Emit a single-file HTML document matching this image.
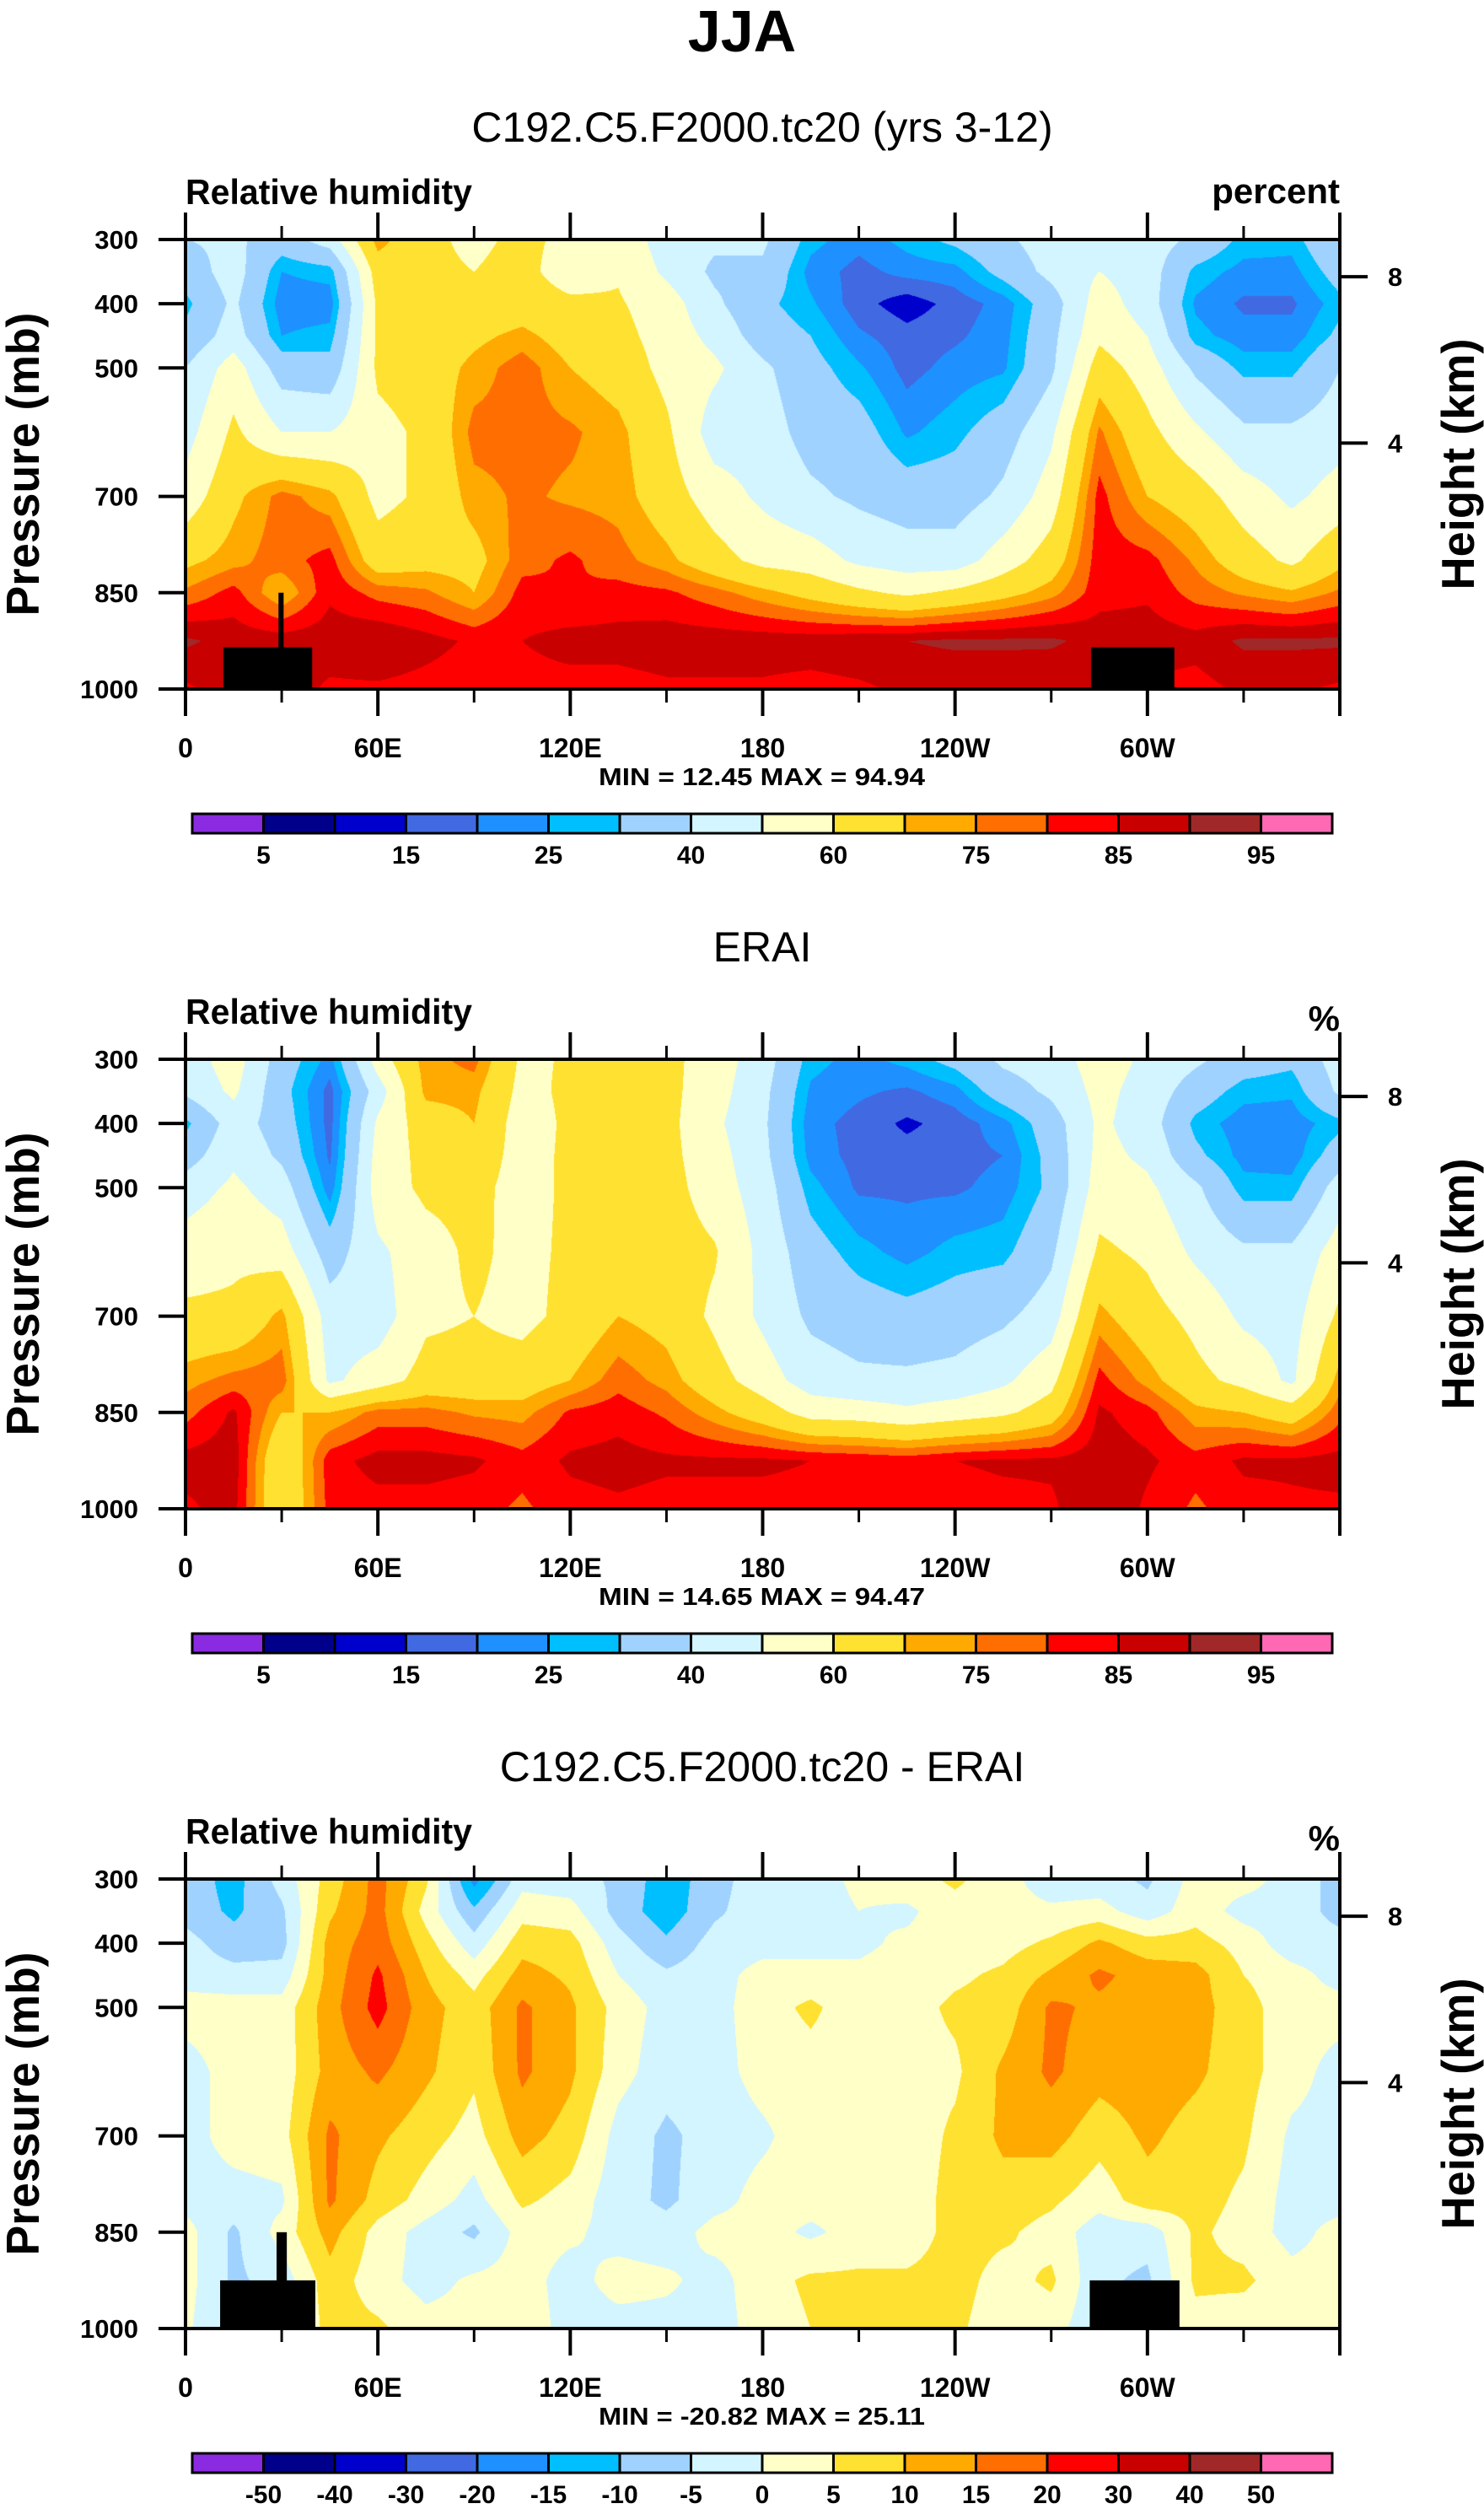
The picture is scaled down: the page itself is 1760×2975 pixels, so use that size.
<!DOCTYPE html>
<html><head><meta charset="utf-8">
<style>
html,body{margin:0;padding:0;background:#fff;}
#wrap{position:relative;width:1760px;height:2975px;overflow:hidden;background:#fff;}
canvas{position:absolute;}
svg{position:absolute;left:0;top:0;}
text{font-family:"Liberation Sans",sans-serif;fill:#000;}
</style></head>
<body>
<div id="wrap">
<canvas id="c0"></canvas>
<canvas id="c1"></canvas>
<canvas id="c2"></canvas>
<svg id="ov" width="1760" height="2975" xmlns="http://www.w3.org/2000/svg">
<text x="880" y="61" text-anchor="middle" font-size="70" font-weight="bold">JJA</text>
</svg>
</div>
<script>
// ---- data ----
const lons = [0,15,30,45,60,75,90,105,120,135,150,165,180,195,210,225,240,255,270,285,300,315,330,345,360];
const plevs = [300,350,400,450,500,600,700,800,850,925,1000];
const modelRH = [
[40,42,35,45,73,62,58,62,58,57,45,42,42,27,22,27,32,38,45,48,45,38,28,27,40],
[34,45,25,27,65,62,60,63,55,59,48,38,38,23,18,22,23,33,43,50,45,28,23,23,34],
[28,42,22,22,62,64,63,65,62,61,55,42,32,26,17,12,17,22,35,55,45,24,19,19,28],
[32,45,25,27,62,64,68,72,66,63,56,47,35,30,21,17,19,23,37,58,50,27,22,22,32],
[40,55,35,33,62,65,72,78,70,66,57,52,42,33,26,18,22,24,38,65,55,38,28,28,40],
[46,62,50,50,57,62,77,77,76,72,62,45,45,36,34,24,28,35,48,76,63,52,42,42,46],
[54,68,77,72,57,62,73,76,74,73,65,55,48,42,38,35,35,42,55,82,70,65,55,48,54],
[68,73,78,82,65,67,67,78,81,77,72,64,57,55,48,45,45,55,65,83,82,74,65,58,68],
[76,82,70,84,78,76,70,82,80,82,81,77,72,67,62,58,62,67,73,83,84,78,74,71,76],
[91,88,88,88,90,87,84,85,87,87,88,88,88,88,89,90,91,91,91,88,88,87,91,91,91],
[84,88,88,84,84,83,82,83,83,83,84,84,84,83,84,86,86,86,85,85,84,83,86,86,84]];
const eraiRH = [
[45,55,35,23,55,73,77,58,61,63,63,55,45,27,23,27,33,42,45,55,48,42,35,32,45],
[42,52,33,18,45,72,72,57,62,63,63,54,43,24,21,19,23,35,42,53,46,35,27,26,42],
[28,45,35,18,52,65,70,55,62,64,63,52,42,22,18,14,17,23,35,52,45,28,22,22,28],
[35,48,38,19,54,63,66,56,62,64,63,54,43,23,18,17,18,20,33,53,48,32,23,22,35],
[45,52,45,22,55,62,63,56,62,64,64,55,45,27,19,19,19,22,32,55,52,42,27,27,45],
[55,58,55,35,48,56,62,57,62,65,65,61,47,34,27,23,27,28,38,62,58,48,42,42,55],
[62,62,72,45,45,58,60,57,63,70,67,58,48,38,35,33,35,38,45,72,64,57,48,46,62],
[73,77,78,48,55,64,64,65,70,78,73,64,55,45,42,42,43,48,57,82,73,63,57,48,73],
[78,86,70,70,77,77,74,73,81,83,79,72,65,56,55,52,55,58,65,86,82,72,70,65,78],
[87,88,60,83,87,87,86,82,86,87,86,86,86,85,84,83,85,86,86,88,86,82,86,86,87],
[84,87,60,82,83,83,82,79,83,84,83,83,83,83,80,81,82,83,84,90,84,79,83,84,84]];
const diffRH = [
[-7,-12,-3,7,17,6,-17,-2,-3,-6,-13,-7,-2,-2,1,3,6,2,-3,-3,-6,2,2,-2,-7],
[-7,-11,-6,9,17,3,-9,3,2,-7,-13,-6,-2,-2,0,-1,3,2,1,2,-3,3,-2,-2,-7],
[-3,-8,-7,12,18,7,-3,8,7,-3,-9,-3,-2,-2,-1,1,2,3,6,11,7,7,3,-3,-3],
[-2,-3,-3,12,21,10,3,12,9,0,-4,-2,2,2,1,2,4,6,11,16,13,12,5,2,-2],
[2,2,2,13,22,12,7,16,11,3,-2,-2,3,6,2,3,6,7,16,14,13,12,7,2,2],
[-2,2,2,12,16,11,6,16,11,2,-3,-2,2,3,3,3,4,11,16,12,13,11,7,2,-2],
[-2,2,3,16,11,7,3,12,8,-2,-6,-3,-1,3,2,2,6,11,12,7,11,8,6,-1,-2],
[-2,-2,-1,16,8,3,-2,6,3,-3,-6,-2,2,2,2,2,7,8,6,2,8,7,4,-2,-2],
[2,-6,2,12,3,-2,-6,2,1,-2,-3,2,2,-1,2,2,7,6,3,-3,-3,6,3,-2,2],
[2,-6,-3,8,2,-2,1,2,-2,2,1,-2,3,6,6,6,7,3,6,-4,-6,6,6,2,2],
[1,-6,-3,7,6,2,2,3,-2,-2,-2,-2,2,5,6,6,6,2,2,-4,-6,3,2,1,1]];
const rhLevels = [5,10,15,20,25,30,40,50,60,70,75,80,85,90,95];
const rhLabels = ["5","15","25","40","60","75","85","95"];
const diffLevels = [-50,-40,-30,-20,-15,-10,-5,0,5,10,15,20,30,40,50];
const diffLabels = ["-50","-40","-30","-20","-15","-10","-5","0","5","10","15","20","30","40","50"];
const palette = ["#8a2be2","#00008b","#0000cd","#4169e1","#1e90ff","#00bfff","#a0d2ff","#d2f5ff","#ffffc8","#ffe132","#ffaa00","#ff6e00","#ff0000","#c80000","#a02828","#ff69b4"];
const pTicks = [300,400,500,700,850,1000];
const lonMajor = [0,60,120,180,240,300];
const lonMajorLabels = ["0","60E","120E","180","120W","60W"];
const lonMinor = [30,90,150,210,270,330];
const hTicks = ["8","4"];
const hTickP = [358,617];
const minmax = ["MIN =  12.45  MAX =  94.94","MIN =  14.65  MAX =  94.47","MIN = -20.82  MAX =  25.11"];
const subtitles = ["C192.C5.F2000.tc20 (yrs 3-12)","ERAI","C192.C5.F2000.tc20 - ERAI"];
const unitsTxt = ["percent","%","%"];
const terrain1 = [[11.8,39.5,935],[29,30.6,850],[282.4,308.4,935]];
const terrain3 = [[10.8,40.5,925],[28.4,31.6,850],[282,310,925]];

// ---- layout ----
const X0=220, X1=1589, PH=533, PSTEP=972, T0=284;
const W=X1-X0;
function xOf(lon){return X0+lon/360*W;}
function yOf(p,top){return top+(p-300)/700*PH;}
const NS="http://www.w3.org/2000/svg";
const ov=document.getElementById('ov');
function mk(tag,attrs,parent){const e=document.createElementNS(NS,tag);for(const k in attrs)e.setAttribute(k,attrs[k]);(parent||ov).appendChild(e);return e;}
function hexRGB(h){return [parseInt(h.slice(1,3),16),parseInt(h.slice(3,5),16),parseInt(h.slice(5,7),16)];}
const palRGB=palette.map(hexRGB);

function interp(field,lon,p){
  let fi=lon/15; let i=Math.floor(fi); if(i>23)i=23; if(i<0)i=0; const tx=fi-i;
  let j=0; while(j<plevs.length-2 && p>plevs[j+1]) j++;
  const ty=(p-plevs[j])/(plevs[j+1]-plevs[j]);
  const a=field[j][i],b=field[j][i+1],c=field[j+1][i],d=field[j+1][i+1];
  return (a*(1-tx)+b*tx)*(1-ty)+(c*(1-tx)+d*tx)*ty;
}
function drawField(id,field,levels,top){
  const cv=document.getElementById(id);
  cv.width=W; cv.height=PH; cv.style.left=X0+'px'; cv.style.top=top+'px';
  const ctx=cv.getContext('2d'); const img=ctx.createImageData(W,PH);
  for(let y=0;y<PH;y++){
    const p=300+(y+0.5)/PH*700;
    for(let x=0;x<W;x++){
      const lon=(x+0.5)/W*360;
      const v=interp(field,lon,p);
      let k=0; while(k<levels.length && v>=levels[k]) k++;
      const c=palRGB[k]; const o=(y*W+x)*4;
      img.data[o]=c[0];img.data[o+1]=c[1];img.data[o+2]=c[2];img.data[o+3]=255;
    }
  }
  ctx.putImageData(img,0,0);
}
const fields=[modelRH,eraiRH,diffRH];
const levs=[rhLevels,rhLevels,diffLevels];
const labs=[rhLabels,rhLabels,diffLabels];
for(let i=0;i<3;i++) drawField('c'+i,fields[i],levs[i],T0+PSTEP*i);

for(let i=0;i<3;i++){
  const top=T0+PSTEP*i, bot=top+PH, off=PSTEP*i;
  const st=mk('text',{x:904,y:168+off,'text-anchor':'middle','font-size':50});
  
  
  st.textContent=subtitles[i];
  const lt=mk('text',{x:X0,y:242+off,'font-size':42,'font-weight':'bold',textLength:340,lengthAdjust:'spacingAndGlyphs'});
  
  
  lt.textContent='Relative humidity';
  const ut=mk('text',{x:X1,y:(i==0?241:250)+off,'text-anchor':'end','font-size':42,'font-weight':'bold'});
  
  
  ut.textContent=unitsTxt[i];
  if(i!=1){
    const ter=i==0?terrain1:terrain3;
    for(const t of ter){
      const r=mk('rect',{x:xOf(t[0]),y:yOf(t[2],top),width:xOf(t[1])-xOf(t[0]),height:bot-yOf(t[2],top),fill:'#000'});
      
      
    }
  }
  const fr=mk('rect',{x:X0,y:top,width:W,height:PH,fill:'none',stroke:'#000','stroke-width':4});
  
  
  for(const p of pTicks){
    const y=yOf(p,top);
    const tk=mk('line',{x1:X0-32,x2:X0,y1:y,y2:y,stroke:'#000','stroke-width':4});
    
    
    const tl=mk('text',{x:164,y:y+11,'text-anchor':'end','font-size':31,'font-weight':'bold'});
    
    
    tl.textContent=String(p);
  }
  for(let k=0;k<=6;k++){
    const lon=k*60, x=xOf(lon);
    const a=mk('line',{x1:x,x2:x,y1:top-32,y2:top,stroke:'#000','stroke-width':4});
    
    
    const b=mk('line',{x1:x,x2:x,y1:bot,y2:bot+32,stroke:'#000','stroke-width':4});
    
    
  }
  for(const lon of lonMinor){
    const x=xOf(lon);
    const a=mk('line',{x1:x,x2:x,y1:top-16,y2:top,stroke:'#000','stroke-width':3});
    
    
    const b=mk('line',{x1:x,x2:x,y1:bot,y2:bot+16,stroke:'#000','stroke-width':3});
    
    
  }
  for(let k=0;k<lonMajor.length;k++){
    const xl=mk('text',{x:xOf(lonMajor[k]),y:bot+81,'text-anchor':'middle','font-size':32,'font-weight':'bold'});
    
    
    xl.textContent=lonMajorLabels[k];
  }
  const mm=mk('text',{x:710,y:bot+114,'font-size':29,'font-weight':'bold',textLength:387,lengthAdjust:'spacingAndGlyphs','xml:space':'preserve'});
  
  
  mm.textContent=minmax[i];
  for(let k=0;k<hTicks.length;k++){
    const y=yOf(hTickP[k],top);
    const rt=mk('line',{x1:X1,x2:X1+33,y1:y,y2:y,stroke:'#000','stroke-width':4});
    
    
    const rl=mk('text',{x:1646,y:y+11,'font-size':31,'font-weight':'bold'});
    
    
    rl.textContent=hTicks[k];
  }
  const cy=top+PH/2;
  const yt=mk('text',{x:0,y:0,transform:'translate(46,'+cy+') rotate(-90)','text-anchor':'middle','font-size':55,'font-weight':'bold',textLength:360,lengthAdjust:'spacingAndGlyphs'});
  
  
  yt.textContent='Pressure (mb)';
  const ht=mk('text',{x:0,y:0,transform:'translate(1748,'+cy+') rotate(-90)','text-anchor':'middle','font-size':55,'font-weight':'bold',textLength:298,lengthAdjust:'spacingAndGlyphs'});
  
  
  ht.textContent='Height (km)';
  const cbx0=228, cbx1=1580, cbt=965+off, cbh=23, bw=(cbx1-cbx0)/16;
  for(let k=0;k<16;k++){
    const r=mk('rect',{x:cbx0+k*bw,y:cbt,width:bw,height:cbh,fill:palette[k],stroke:'#000','stroke-width':3});
    
    
  }
  const L=labs[i];
  for(let k=0;k<L.length;k++){
    const bi = (i==2)? k+1 : 2*k+1;
    const cl=mk('text',{x:cbx0+bi*bw,y:cbt+cbh+36,'text-anchor':'middle','font-size':30,'font-weight':'bold'});
    
    
    cl.textContent=L[k];
  }
}
</script>
</body></html>
